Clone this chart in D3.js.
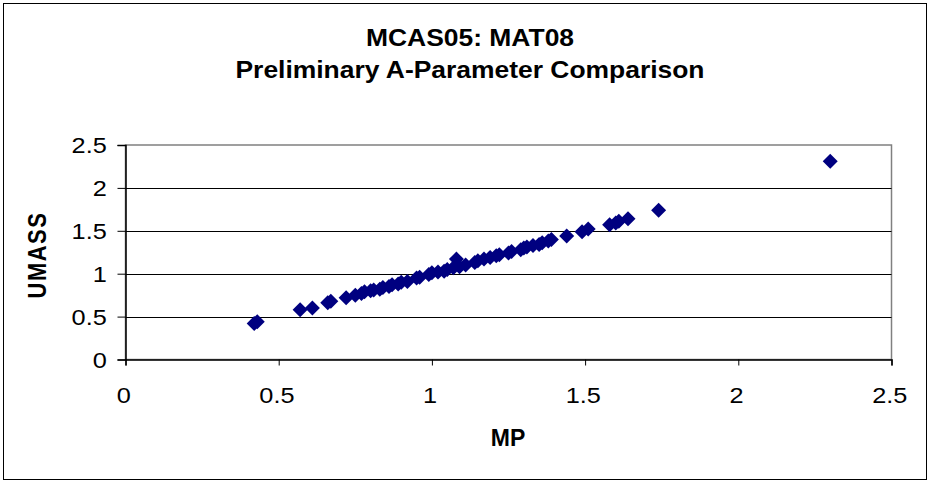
<!DOCTYPE html>
<html><head><meta charset="utf-8">
<script src="https://cdn.jsdelivr.net/npm/d3@7"></script>
<style>body{margin:0;background:#fff}svg{display:block}text{font-family:Arial,"Liberation Sans",sans-serif}</style>
</head><body><svg id="c" width="933" height="483"></svg>
<script>
const titleLines = ["MCAS05: MAT08", "Preliminary A-Parameter Comparison"];
const xLabel = "MP";
const yLabel = "UMASS";
const xTicks = [0, 0.5, 1, 1.5, 2, 2.5];
const yTicks = [0, 0.5, 1, 1.5, 2, 2.5];
const mpValues = [0.42,0.43,0.57,0.61,0.66,0.67,0.72,0.75,0.77,0.78,0.80,0.81,0.83,0.84,0.86,0.87,0.89,0.90,0.92,0.95,0.96,0.99,1.00,1.02,1.04,1.05,1.08,1.07,1.09,1.11,1.14,1.15,1.17,1.19,1.21,1.22,1.25,1.26,1.29,1.30,1.31,1.33,1.35,1.36,1.38,1.39,1.44,1.49,1.51,1.58,1.60,1.61,1.64,1.74,2.30];
const umassValues = [0.42,0.44,0.58,0.60,0.66,0.68,0.72,0.75,0.77,0.79,0.80,0.81,0.82,0.84,0.85,0.87,0.88,0.90,0.91,0.95,0.96,0.99,1.01,1.02,1.03,1.05,1.17,1.07,1.08,1.10,1.13,1.15,1.17,1.19,1.21,1.22,1.24,1.26,1.28,1.30,1.31,1.33,1.34,1.36,1.38,1.40,1.44,1.49,1.52,1.57,1.59,1.61,1.64,1.74,2.31];

const svg = d3.select("#c");
const L = 125.5, R = 891.5, T = 145, B = 359.5;
const SX = 1.15; // horizontal glyph stretch seen in the reference
const x = d3.scaleLinear().domain([0, 2.5]).range([L, R]);
const y = d3.scaleLinear().domain([0, 2.5]).range([B, T]);

svg.append("rect").attr("x", 3.5).attr("y", 3.5).attr("width", 923).attr("height", 476)
  .attr("fill", "#fff").attr("stroke", "#000").attr("stroke-width", 1);

const titleBase = [46, 77.5];
titleLines.forEach((t, i) => svg.append("text")
  .attr("transform", `translate(470,${titleBase[i]}) scale(${SX},1)`)
  .attr("text-anchor", "middle").attr("font-size", 23).attr("font-weight", "bold").text(t));

// plot area border
svg.append("rect").attr("x", L).attr("y", T).attr("width", R - L).attr("height", B - T)
  .attr("fill", "#fff").attr("stroke", "#808080").attr("stroke-width", 1.5);

// gridlines
svg.append("g").selectAll("line").data(yTicks.filter(v => v > 0 && v < 2.5)).join("line")
  .attr("x1", L).attr("x2", R).attr("y1", d => Math.round(y(d)) + 0.5).attr("y2", d => Math.round(y(d)) + 0.5)
  .attr("stroke", "#000").attr("stroke-width", 1);

// axes
const xAxis = svg.append("g").attr("transform", `translate(0,${B})`)
  .call(d3.axisBottom(x).tickValues(xTicks).tickFormat(d3.format("")).tickSize(6).tickPadding(22));
const yAxis = svg.append("g").attr("transform", `translate(${L},0)`)
  .call(d3.axisLeft(y).tickValues(yTicks).tickFormat(d3.format("")).tickSize(8).tickPadding(8.3));
[xAxis, yAxis].forEach(g => {
  g.select(".domain").attr("stroke", "#000").attr("stroke-width", 1.5);
  g.selectAll(".tick line").attr("stroke", "#000");
  g.selectAll(".tick text").attr("font-size", 22).attr("fill", "#000")
    .attr("transform", `scale(${SX},1)`)
    .attr("font-family", 'Arial,"Liberation Sans",sans-serif');
});
xAxis.selectAll(".tick text").attr("x", -2);
yAxis.selectAll(".tick text").attr("dy", "0.36em");

// points
const data = mpValues.map((v, i) => ({ mp: v, um: umassValues[i] }));
const h = 7.5;
svg.append("g").selectAll("path").data(data).join("path")
  .attr("d", d => { const cx = x(d.mp), cy = y(d.um);
    return `M${cx},${cy - h}L${cx + h},${cy}L${cx},${cy + h}L${cx - h},${cy}Z`; })
  .attr("fill", "#000080");

svg.append("text").attr("transform", `translate(508,446)`).attr("text-anchor", "middle")
  .attr("font-size", 23).attr("font-weight", "bold").text(xLabel);
svg.append("text").attr("transform", `translate(46,255) rotate(-90) scale(1,${SX})`).attr("text-anchor", "middle")
  .attr("font-size", 22).attr("font-weight", "bold").attr("letter-spacing", 1.5).text(yLabel);
</script></body></html>
